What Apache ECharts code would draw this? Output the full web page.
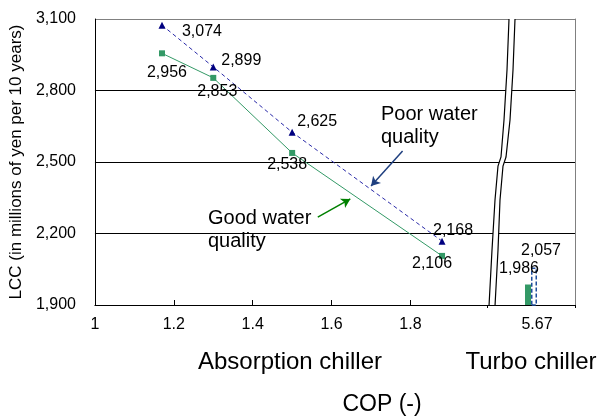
<!DOCTYPE html>
<html>
<head>
<meta charset="utf-8">
<script src="https://cdn.jsdelivr.net/npm/echarts@6/dist/echarts.min.js"></script>
<style>html,body{margin:0;padding:0;background:#fff}#c{width:600px;height:418px}</style>
</head>
<body>
<div id="c"></div>
<script>
// ---- data ----
const copAbsorption = [1.17, 1.30, 1.50, 1.88];
const lccPoor = [3074, 2899, 2625, 2168];
const lccGood = [2956, 2853, 2538, 2106];
const turboCategory = ['5.67'];
const turboGood = [1986];
const turboPoor = [2057];
const yTicks = [1900, 2200, 2500, 2800, 3100];
const xTickLabels = [1, 1.2, 1.4, 1.6, 1.8];
const seriesNames = ['Good water quality', 'Poor water quality'];

// ---- styling (label offsets, annotation arrows) ----
const poorLabelOffsets = [[40, 6], [28, -6], [25, -11], [11, -11]];
const goodLabelOffsets = [[5, 19], [4, 14], [-5, 12], [-10, 8]];
const poorArrow = [[1.78, 2546], [1.70, 2399]];
const goodArrow = [[1.565, 2269], [1.6475, 2345]];

const FONT = '"Liberation Sans", Arial, sans-serif';
const fmt = v => Number(v).toLocaleString('en-US');
const GREEN = '#339966';
const NAVY = '#000080';

function items(xs, ys, offs) {
  return xs.map((x, i) => ({
    value: [x, ys[i]],
    label: { offset: offs[i] }
  }));
}

const splitColors = ['#000', '#000', '#000', '#000', '#808080'];

const chart = echarts.init(document.getElementById('c'), null, { renderer: 'canvas' });
const option = {
  animation: false,
  textStyle: { fontFamily: FONT },
  grid: [
    { left: 89, top: 19, width: 426, height: 286 },
    { left: 487, top: 19, width: 88, height: 286 }
  ],
  xAxis: [
    {
      type: 'value', gridIndex: 0, min: 1, max: 2.065, interval: 0.2,
      axisLine: { show: true, lineStyle: { color: '#000', width: 1 } },
      axisTick: { show: true, inside: true, length: 5, customValues: [1.2, 1.4, 1.6, 1.8], lineStyle: { color: '#000' } },
      axisLabel: { customValues: xTickLabels, fontSize: 16, color: '#000', margin: 12, fontFamily: FONT,
        alignMinLabel: 'center', formatter: v => String(Math.round(v * 10) / 10) },
      splitLine: { show: false }
    },
    {
      type: 'category', gridIndex: 1, data: turboCategory,
      axisLine: { show: true, lineStyle: { color: '#000', width: 1 } },
      axisTick: { show: true, length: 3, lineStyle: { color: '#000' } },
      axisLabel: { color: '#000', margin: 12, formatter: '{s|}{a|{value}}',
        rich: { s: { width: 12, fontSize: 16 }, a: { fontSize: 16, color: '#000', fontFamily: FONT } } },
      splitLine: { show: false }
    }
  ],
  yAxis: [
    {
      type: 'value', gridIndex: 0, min: yTicks[0], max: yTicks[yTicks.length - 1], interval: 300,
      axisLine: { show: true, lineStyle: { color: '#000', width: 1 } },
      axisTick: { show: false },
      axisLabel: { fontSize: 16, color: '#000', margin: 19, fontFamily: FONT, formatter: fmt },
      splitLine: { show: true, lineStyle: { color: splitColors, width: 1 } },
      name: 'LCC (in millions of yen per 10 years)',
      nameLocation: 'middle', nameGap: 54,
      nameTextStyle: { fontSize: 17, color: '#000', fontFamily: FONT }
    },
    {
      type: 'value', gridIndex: 1, position: 'right', min: yTicks[0], max: yTicks[yTicks.length - 1], interval: 300,
      axisLine: { show: true, lineStyle: { color: '#808080', width: 1 } },
      axisTick: { show: false },
      axisLabel: { show: false },
      splitLine: { show: true, lineStyle: { color: splitColors, width: 1 } }
    }
  ],
  series: [
    {
      name: seriesNames[1], type: 'line', xAxisIndex: 0, yAxisIndex: 0,
      data: items(copAbsorption, lccPoor, poorLabelOffsets),
      symbol: 'triangle', symbolSize: 7,
      itemStyle: { color: NAVY },
      lineStyle: { color: '#2a2aa8', width: 1, type: [4, 3] },
      label: { show: true, position: 'inside', fontSize: 16, color: '#000', fontFamily: FONT,
        formatter: p => fmt(p.value[1]) },
      markLine: {
        silent: true, symbol: ['none', 'arrow'], symbolSize: [8, 9],
        lineStyle: { color: '#1f3f7f', width: 1.5, type: 'solid' },
        label: { show: false },
        data: [[{ coord: poorArrow[0] }, { coord: poorArrow[1] }]]
      },
      z: 3
    },
    {
      name: seriesNames[0], type: 'line', xAxisIndex: 0, yAxisIndex: 0,
      data: items(copAbsorption, lccGood, goodLabelOffsets),
      symbol: 'rect', symbolSize: 6,
      itemStyle: { color: GREEN },
      lineStyle: { color: GREEN, width: 1 },
      label: { show: true, position: 'inside', fontSize: 16, color: '#000', fontFamily: FONT,
        formatter: p => fmt(p.value[1]) },
      markLine: {
        silent: true, symbol: ['none', 'arrow'], symbolSize: [8, 9],
        lineStyle: { color: '#008000', width: 1.5, type: 'solid' },
        label: { show: false },
        data: [[{ coord: goodArrow[0] }, { coord: goodArrow[1] }]]
      },
      z: 3
    },
    {
      name: seriesNames[0], type: 'bar', xAxisIndex: 1, yAxisIndex: 1,
      data: turboGood, barWidth: 6, barGap: '0%', clip: true,
      itemStyle: { color: GREEN },
      label: { show: true, position: 'top', offset: [-9, -3], fontSize: 16, color: '#000', fontFamily: FONT,
        formatter: p => fmt(p.value) },
      z: 4
    },
    {
      name: seriesNames[1], type: 'bar', xAxisIndex: 1, yAxisIndex: 1,
      data: turboPoor, barWidth: 6, barGap: '0%', clip: true,
      itemStyle: { color: 'rgba(255,255,255,0)', borderColor: '#1f4e9c', borderWidth: 1.5, borderType: [4, 2] },
      label: { show: true, position: 'top', offset: [7, -4], fontSize: 16, color: '#000', fontFamily: FONT,
        formatter: p => fmt(p.value) },
      z: 4
    }
  ],
  graphic: [
    // axis break (above grid lines, below series)
    {
      type: 'polygon', z: 1, silent: true,
      shape: { points: [[509,19],[507,70],[504,120],[501,157],[498,166],[495,200],[492,250],[489,305],
                        [495,305],[498,250],[500,200],[503,166],[506,157],[510,120],[513,70],[515,19]] },
      style: { fill: '#fff', stroke: null }
    },
    {
      type: 'polyline', z: 1, silent: true,
      shape: { points: [[509,19],[507,70],[504,120],[501,157],[498,166],[495,200],[492,250],[489,306]] },
      style: { stroke: '#000', lineWidth: 1.2, fill: null }
    },
    {
      type: 'polyline', z: 1, silent: true,
      shape: { points: [[515,19],[513,70],[510,120],[506,157],[503,166],[500,200],[498,250],[495,306]] },
      style: { stroke: '#000', lineWidth: 1.2, fill: null }
    },
    // annotations
    { type: 'text', z: 60, left: 381, top: 103, style: { text: 'Poor water\nquality', font: '20px ' + FONT, fill: '#000', lineHeight: 23 } },
    { type: 'text', z: 60, left: 208, top: 207, style: { text: 'Good water\nquality', font: '20px ' + FONT, fill: '#000', lineHeight: 23 } },
    // group titles
    { type: 'text', z: 60, style: { text: 'Absorption chiller', font: '24px ' + FONT, fill: '#000', x: 290, y: 362, align: 'center', verticalAlign: 'middle' } },
    { type: 'text', z: 60, style: { text: 'Turbo chiller', font: '24px ' + FONT, fill: '#000', x: 531, y: 362, align: 'center', verticalAlign: 'middle' } },
    { type: 'text', z: 60, style: { text: 'COP (-)', font: '23px ' + FONT, fill: '#000', x: 382, y: 405, align: 'center', verticalAlign: 'middle' } }
  ]
};
chart.setOption(option);
</script>
</body>
</html>
